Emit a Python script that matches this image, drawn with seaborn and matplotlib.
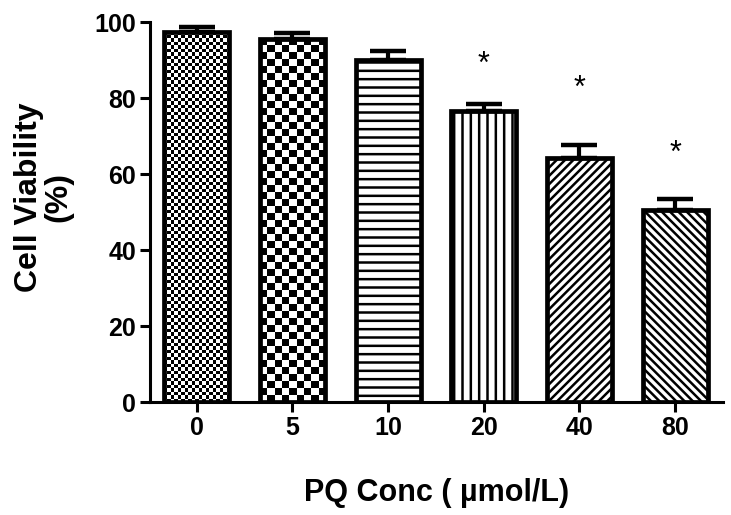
import numpy as np
import pandas as pd
import seaborn as sns
import matplotlib.pyplot as plt

# ---------------------------
# Data
# ---------------------------
conc = ["0", "5", "10", "20", "40", "80"]
viability = [97.5, 95.6, 90.0, 76.7, 64.3, 50.6]
sem = [1.1, 1.4, 2.3, 1.6, 3.3, 2.8]
star_y = [None, None, None, 88.6, 82.3, 65.3]

df = pd.DataFrame({"conc": conc, "viability": viability})

sns.set_style("ticks")
plt.rcParams["font.family"] = ["Liberation Sans", "DejaVu Sans"]
plt.rcParams["hatch.linewidth"] = 1.8
plt.rcParams["hatch.color"] = "black"
plt.rcParams["text.color"] = "black"
plt.rcParams["axes.labelcolor"] = "black"
plt.rcParams["axes.edgecolor"] = "black"
plt.rcParams["xtick.color"] = "black"
plt.rcParams["ytick.color"] = "black"

fig = plt.figure(figsize=(7.31, 5.15), dpi=100)
ax = fig.add_axes([0.205, 0.2194, 0.784, 0.7378])

sns.barplot(data=df, x="conc", y="viability", order=conc, color="white",
            edgecolor="black", linewidth=3.4, width=0.68, errorbar=None,
            saturation=1, ax=ax)

ax.set_xlim(-0.49, 5.5)
ax.set_ylim(0, 100)

# ---------------------------
# Fills: two checkerboards, then hatches
# ---------------------------
patterns = ["check_fine", "check_coarse", "--", "||", "////", "\\\\\\\\"]
fig.canvas.draw()
for p, pat in zip(ax.patches, patterns):
    p.set_zorder(3)
    if pat.startswith("check"):
        p.set_facecolor("none")
        sq = 3.5 if pat == "check_fine" else 7.0
        x0, y0 = p.get_xy()
        w, h = p.get_width(), p.get_height()
        (px0, py0), (px1, py1) = ax.transData.transform([(x0, y0), (x0 + w, y0 + h)])
        nx = max(int(round((px1 - px0) / sq)), 1)
        ny = max(int(round((py1 - py0) / sq)), 1)
        board = np.add.outer(np.arange(ny), np.arange(nx)) % 2
        im = ax.imshow(board, cmap="gray_r", extent=(x0, x0 + w, y0, y0 + h),
                       interpolation="nearest", aspect="auto", origin="lower",
                       zorder=2)
        im.set_clip_path(p)
    else:
        p.set_hatch(pat)

ax.set_xlim(-0.49, 5.5)
ax.set_ylim(0, 100)

# upper error bars only
ax.errorbar(np.arange(len(conc)), viability,
            yerr=[np.zeros(len(sem)), sem], fmt="none", ecolor="black",
            elinewidth=3, capsize=13, capthick=3.2, zorder=4)

# significance marks
for i, sy in enumerate(star_y):
    if sy is not None:
        ax.text(i, sy, "*", ha="center", va="center", fontsize=22,
                color="black")

# ---------------------------
# Axes styling
# ---------------------------
sns.despine(ax=ax)
for side in ["left", "bottom"]:
    ax.spines[side].set_linewidth(2.2)
ax.set_yticks([0, 20, 40, 60, 80, 100])
ax.tick_params(axis="both", direction="out", length=7, width=2.2,
               labelsize=18, pad=3)
for lab in ax.get_xticklabels() + ax.get_yticklabels():
    lab.set_fontweight("bold")

ax.set_xlabel("PQ Conc ( µmol/L)", fontsize=22, fontweight="bold")
ax.xaxis.label.set_va("center")
ax.xaxis.set_label_coords(0.5, -0.24)

ax.set_ylabel("Cell Viability\n(%)", fontsize=23, fontweight="bold",
              linespacing=1.0)
ax.yaxis.label.set_va("center")
ax.yaxis.set_label_coords(-0.185, 0.54)

fig.savefig("out.png", dpi=100)
